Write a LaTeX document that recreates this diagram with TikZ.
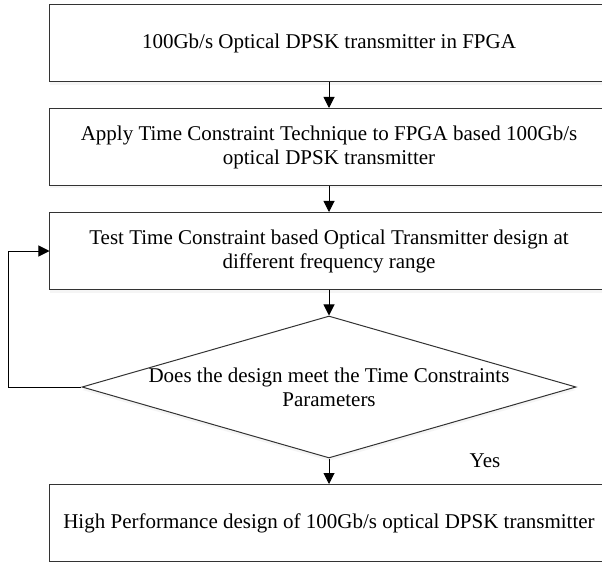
\documentclass[tikz,border=0pt]{standalone}
\usepackage{fontspec}
\setmainfont{Liberation Serif}
\usetikzlibrary{arrows.meta,shapes.geometric,shadows}

\begin{document}
\begin{tikzpicture}
        [x = 1bp, y = -1bp, line width = 1bp,
         font = \fontsize{21bp}{24bp}\selectfont,
         stage/.style = {draw = black!80, fill = white, minimum width = 558bp,
           minimum height = 77bp, align = center, inner sep = 0pt,
           drop shadow = {shadow xshift = 0bp, shadow yshift = -3bp, opacity = .08}},
         check/.style = {draw = black!80, fill = white, diamond, minimum width = 494bp,
           minimum height = 142bp, inner sep = 0pt,
           drop shadow = {shadow xshift = 0bp, shadow yshift = -3bp, opacity = .08}},
         flow/.style = {-{Triangle[length = 11bp, width = 11bp]}}]

        \useasboundingbox (0,0) rectangle (602,562);

        \node[stage] (fpga) at (329, 43.5) {100Gb/s Optical DPSK transmitter in FPGA};
        \node[stage] (apply) at (329, 147)
          {Apply Time Constraint Technique to FPGA based 100Gb/s\\ optical DPSK transmitter};
        \node[stage] (test) at (329, 251)
          {Test Time Constraint based Optical Transmitter design at\\ different frequency range};
        \node[check, label = {[align = center]center:Does the design meet the Time Constraints\\ Parameters}]
          (meet) at (329, 387) {};
        \node[stage] (result) at (329, 523)
          {High Performance design of 100Gb/s optical DPSK transmitter};

        \foreach \from/\to in {fpga/apply, apply/test, test/meet}
          \draw[flow] (\from) -- (\to);
        \draw[flow] (meet) -- node[pos = .1, xshift = 156bp] {Yes} (result);
        \draw[flow] (meet.west) -- ++(-73, 0) |- (test.west);
      \end{tikzpicture}
\end{document}
